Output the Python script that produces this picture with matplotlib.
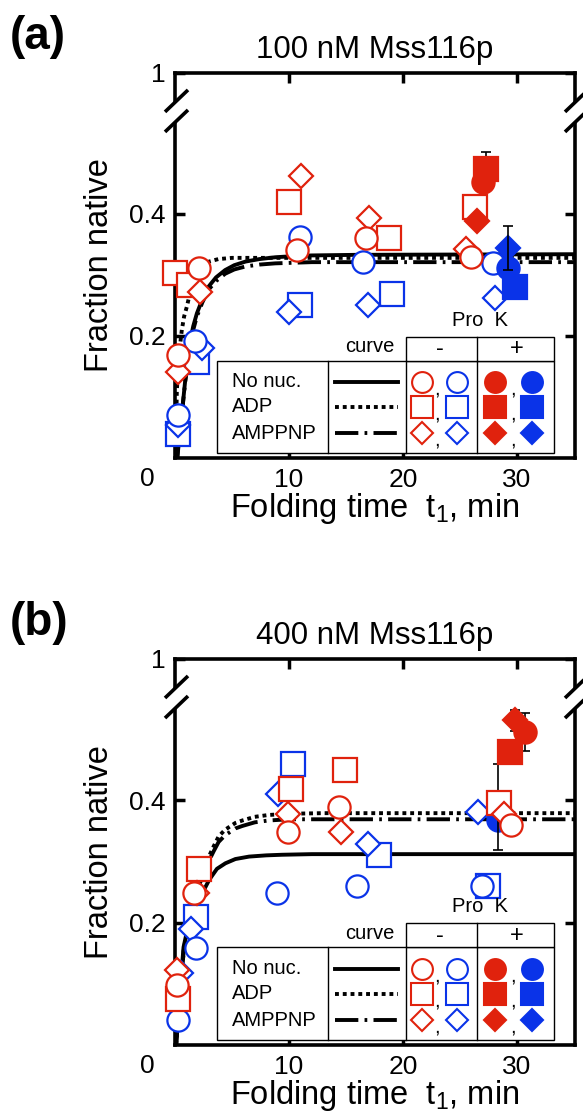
import matplotlib
matplotlib.use("Agg")
import matplotlib.pyplot as plt
from matplotlib.patches import Rectangle

plt.rcParams['font.family'] = ['Liberation Sans', 'DejaVu Sans']
plt.rcParams['mathtext.default'] = 'regular'

RED = '#e0220d'
BLUE = '#0a33e8'

# ---- panel (a): 100 nM Mss116p ----
a_red_circle = ([0.3, 2.07, 10.7, 16.75, 26.0], [0.169, 0.311, 0.341, 0.360, 0.330])
a_red_square = ([0.0, 1.19, 10.0, 18.75, 26.3], [0.303, 0.283, 0.420, 0.360, 0.412])
a_red_diamond = ([0.3, 2.2, 11.05, 17.0, 25.5], [0.141, 0.272, 0.462, 0.393, 0.342])
a_blue_circle = ([0.3, 1.78, 10.97, 16.46, 27.9], [0.070, 0.191, 0.363, 0.321, 0.319])
a_blue_square = ([0.3, 1.92, 10.94, 19.05], [0.040, 0.158, 0.251, 0.269])
a_blue_diamond = ([0.3, 2.35, 10.0, 16.96, 28.1], [0.054, 0.180, 0.240, 0.251, 0.262])
a_red_circle_k = ([27.0], [0.453])
a_red_square_k = ([27.3], [0.474])
a_red_diamond_k = ([26.5], [0.389])
a_blue_circle_k = ([29.2], [0.311])
a_blue_square_k = ([29.8], [0.281])
a_blue_diamond_k = ([29.2], [0.344])
# error bars: t, y, lower, upper
a_err = ([27.3, 29.2], [0.474, 0.344], [0.028, 0.036], [0.028, 0.036])

a_fit_none = ([0.2, 0.3, 0.46, 0.9, 1.34, 1.6, 1.92, 2.4, 2.95, 3.6, 4.4, 5.2, 6.2, 7.4, 8.8, 10.5, 12, 16, 35.1],
              [0, 0.024, 0.046, 0.128, 0.193, 0.216, 0.237, 0.260, 0.281, 0.296, 0.308, 0.316, 0.322, 0.326, 0.329, 0.331, 0.332, 0.333, 0.334])
a_fit_adp = ([0.05, 0.16, 0.35, 0.6, 0.8, 1.04, 1.25, 1.48, 1.9, 2.36, 3.0, 3.8, 5.0, 7.0, 35.1],
             [0, 0.110, 0.170, 0.210, 0.232, 0.248, 0.265, 0.281, 0.302, 0.315, 0.322, 0.326, 0.328, 0.328, 0.328])
a_fit_amppnp = ([0.2, 0.5, 0.9, 1.34, 1.6, 1.92, 2.4, 2.95, 3.6, 4.4, 5.2, 6.2, 7.4, 8.8, 12, 35.1],
                [0, 0.055, 0.125, 0.188, 0.210, 0.232, 0.255, 0.276, 0.290, 0.302, 0.309, 0.314, 0.317, 0.319, 0.321, 0.321])

# ---- panel (b): 400 nM Mss116p ----
b_red_circle = ([0.16, 1.63, 9.94, 14.4, 29.5], [0.098, 0.249, 0.348, 0.389, 0.359])
b_red_square = ([0.22, 2.07, 10.15, 14.93, 28.4], [0.076, 0.288, 0.419, 0.449, 0.395])
b_red_diamond = ([0.16, 1.9, 9.94, 14.55, 28.9], [0.122, 0.249, 0.378, 0.348, 0.378])
b_blue_circle = ([0.22, 1.87, 8.97, 15.96, 26.9], [0.041, 0.158, 0.249, 0.260, 0.260])
b_blue_square = ([1.87, 10.38, 17.9, 27.5], [0.209, 0.460, 0.310, 0.260])
b_blue_diamond = ([0.5, 1.39, 9.0, 16.9, 26.6], [0.118, 0.190, 0.410, 0.329, 0.381])
b_red_circle_k = ([30.7], [0.512])
b_red_square_k = ([29.4], [0.479])
b_red_diamond_k = ([29.8], [0.531])
b_blue_circle_k = ([28.3], [0.367])
b_blue_square_k = ([], [])
b_blue_diamond_k = ([], [])
b_err = ([30.7, 29.8, 28.3], [0.512, 0.531, 0.367], [0.031, 0.017, 0.049], [0.031, 0.017, 0.092])

b_fit_none = ([0.1, 0.4, 0.75, 1.1, 1.5, 2.0, 2.5, 3.0, 3.68, 4.42, 5.3, 6.5, 8.0, 9.4, 12, 35.1],
              [0, 0.080, 0.160, 0.190, 0.210, 0.232, 0.252, 0.270, 0.288, 0.297, 0.304, 0.308, 0.310, 0.311, 0.312, 0.312])
b_fit_adp = ([0.1, 0.4, 0.8, 1.5, 2.2, 2.66, 2.95, 3.4, 3.83, 4.4, 5.3, 5.9, 7.0, 8.2, 10, 13, 35.1],
             [0, 0.080, 0.160, 0.220, 0.270, 0.295, 0.307, 0.325, 0.341, 0.352, 0.363, 0.367, 0.373, 0.376, 0.378, 0.379, 0.379])
b_fit_amppnp = ([0.1, 0.4, 0.8, 1.5, 2.2, 2.66, 2.95, 3.4, 3.83, 4.4, 5.3, 5.9, 7.0, 8.2, 10, 13, 35.1],
                [0, 0.080, 0.160, 0.220, 0.265, 0.290, 0.300, 0.317, 0.332, 0.343, 0.354, 0.358, 0.364, 0.367, 0.369, 0.369, 0.369])

row_labels = ['No nuc.', 'ADP', 'AMPPNP']
row_markers = ['o', 's', 'D']
x_ticks = [10, 20, 30]
y_ticks = [0.2, 0.4, 0.631]
y_ticklabels = ['0.2', '0.4', '1']

MS = {'o': 16, 's': 17, 'D': 12.3}
LW = 2.8
STYLES = [dict(ls='-'), dict(ls=(0, (1.0, 1.0))), dict(ls=(0, (6.0, 1.6, 0.7, 1.6)))]


def pts(ax, series, marker, color, filled, z):
    t, y = series
    ax.plot(t, y, ls='none', marker=marker, ms=MS[marker], mew=1.6, mec=color,
            mfc=color if filled else 'white', clip_on=False, zorder=z)


def draw_key(ax):
    tr = ax.transAxes
    box = dict(transform=tr, clip_on=False, fc='white', ec='k', lw=1.0, zorder=10)
    ax.add_patch(Rectangle((0.104, 0.012), 0.844, 0.241, **box))
    ax.add_patch(Rectangle((0.578, 0.253), 0.370, 0.062, **box))
    for x in (0.383, 0.578, 0.756):
        ax.plot([x, x], [0.012, 0.253], color='k', lw=1.0, transform=tr, zorder=11, clip_on=False)
    ax.plot([0.756, 0.756], [0.253, 0.315], color='k', lw=1.0, transform=tr, zorder=11, clip_on=False)
    txt = dict(transform=tr, zorder=12, fontsize=14.5)
    ax.text(0.4875, 0.289, 'curve', ha='center', va='center', **txt)
    ax.text(0.6625, 0.283, '-', ha='center', va='center', fontsize=17, transform=tr, zorder=12)
    ax.text(0.854, 0.283, '+', ha='center', va='center', fontsize=17, transform=tr, zorder=12)
    ax.text(0.7625, 0.358, 'Pro  K', ha='center', va='center', **txt)
    rows = [0.198, 0.133, 0.064]
    for lab, mk, st, y in zip(row_labels, row_markers, STYLES, rows):
        ax.text(0.142, y, lab, ha='left', va='center', **txt)
        ax.plot([0.400, 0.558], [y, y], color='k', lw=LW, transform=tr, zorder=12, clip_on=False, **st)
        for x, c, f in ((0.617, RED, False), (0.704, BLUE, False), (0.800, RED, True), (0.892, BLUE, True)):
            ax.plot([x], [y], marker=mk, ms=MS[mk] - 1.0, mew=1.5, mec=c, mfc=c if f else 'white',
                    transform=tr, zorder=12, clip_on=False)
        for x in (0.655, 0.846):
            ax.text(x, y - 0.018, ',', ha='center', va='center', **txt)


def draw_break(ax):
    tr = ax.transAxes
    for x0 in (0.0, 1.0):
        ax.plot([x0, x0], [0.872, 0.924], color='white', lw=7, transform=tr, zorder=13,
                clip_on=False, solid_capstyle='butt')
        for yb in (0.847, 0.899):
            ax.plot([x0 - 0.025, x0 + 0.0325], [yb, yb + 0.057], color='k', lw=2.6,
                    transform=tr, zorder=14, clip_on=False, solid_capstyle='butt')


def draw_panel(ax, title, data, fits, err):
    (rc, rs, rd, bc, bs, bd, rck, rsk, rdk, bck, bsk, bdk) = data
    for (t, y), st in zip(fits, STYLES):
        ax.plot(t, y, color='k', lw=LW, zorder=2, **st)
    pts(ax, bs, 's', BLUE, False, 3)
    pts(ax, bd, 'D', BLUE, False, 3)
    pts(ax, bc, 'o', BLUE, False, 3)
    pts(ax, bsk, 's', BLUE, True, 4)
    pts(ax, bck, 'o', BLUE, True, 4)
    pts(ax, bdk, 'D', BLUE, True, 4)
    et, ey, elo, ehi = err
    ax.errorbar(et, ey, yerr=[elo, ehi], fmt='none', ecolor='k', elinewidth=1.2,
                capsize=3.5, capthick=1.2, zorder=4.5, clip_on=False)
    pts(ax, rs, 's', RED, False, 5)
    pts(ax, rd, 'D', RED, False, 5)
    pts(ax, rc, 'o', RED, False, 5)
    pts(ax, rsk, 's', RED, True, 6)
    pts(ax, rck, 'o', RED, True, 6)
    pts(ax, rdk, 'D', RED, True, 6)

    ax.set_xlim(0, 35.1)
    ax.set_ylim(0, 0.631)
    ax.set_xticks(x_ticks)
    ax.set_yticks(y_ticks)
    ax.set_yticklabels(y_ticklabels)
    ax.tick_params(direction='in', length=7, width=2.5, top=True, right=True,
                   labelsize=19, pad=7)
    for sp in ax.spines.values():
        sp.set_linewidth(2.6)
    ax.annotate('0', xy=(0, 0), xycoords='axes fraction', xytext=(-20, -15),
                textcoords='offset points', ha='center', va='center', fontsize=19)
    ax.set_title(title, fontsize=22.5, pad=11)
    ax.set_xlabel('Folding time  t$_1$, min', fontsize=23.5)
    ax.set_ylabel('Fraction native', fontsize=23.5)
    ax.xaxis.set_label_coords(0.5, -0.085)
    ax.yaxis.set_label_coords(-0.15, 0.5)
    draw_key(ax)
    draw_break(ax)


fig = plt.figure(figsize=(5.83, 11.18), dpi=100)
W, H = 583, 1118
ax_a = fig.add_axes([175 / W, 1 - 458 / H, 400 / W, 385 / H])
ax_b = fig.add_axes([175 / W, 1 - 1045 / H, 400 / W, 386 / H])

draw_panel(ax_a, '100 nM Mss116p',
           (a_red_circle, a_red_square, a_red_diamond, a_blue_circle, a_blue_square, a_blue_diamond,
            a_red_circle_k, a_red_square_k, a_red_diamond_k, a_blue_circle_k, a_blue_square_k, a_blue_diamond_k),
           (a_fit_none, a_fit_adp, a_fit_amppnp), a_err)
draw_panel(ax_b, '400 nM Mss116p',
           (b_red_circle, b_red_square, b_red_diamond, b_blue_circle, b_blue_square, b_blue_diamond,
            b_red_circle_k, b_red_square_k, b_red_diamond_k, b_blue_circle_k, b_blue_square_k, b_blue_diamond_k),
           (b_fit_none, b_fit_adp, b_fit_amppnp), b_err)

fig.text(10 / W, 1 - 37 / H, '(a)', fontsize=33, fontweight='bold', ha='left', va='center')
fig.text(10 / W, 1 - 623 / H, '(b)', fontsize=33, fontweight='bold', ha='left', va='center')

fig.savefig('out.png', dpi=100)
